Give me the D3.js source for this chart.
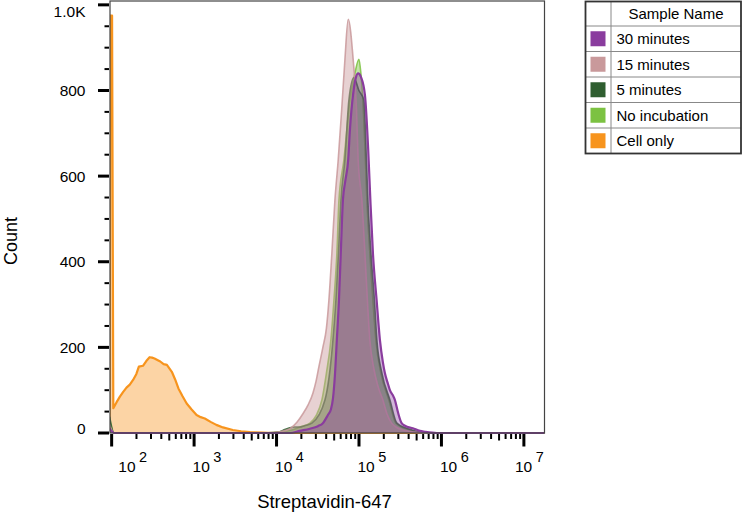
<!DOCTYPE html>
<html>
<head>
<meta charset="utf-8">
<script src="https://cdn.jsdelivr.net/npm/d3@7/dist/d3.min.js"></script>
<style>
  html, body { margin: 0; padding: 0; background: #fff; }
  svg { display: block; font-family: "Liberation Sans", Arial, Helvetica, sans-serif; }
</style>
</head>
<body>
<svg id="chart" width="742" height="515"></svg>
<script>
// ---------------- DATA ----------------
// x values are log10 of Streptavidin-647 intensity, y values are counts
const seriesNames = ["30 minutes", "15 minutes", "5 minutes", "No incubation", "Cell only"];
const seriesColors = ["#8a3c9e", "#c9999b", "#2f5e30", "#7cc242", "#f7941d"];

const cellOnlyLog   = [1.975, 1.985, 2.005, 2.02, 2.06, 2.10, 2.14, 2.18, 2.22, 2.26, 2.30, 2.33, 2.38, 2.42, 2.46, 2.49, 2.52, 2.56, 2.59, 2.63, 2.67, 2.73, 2.77, 2.81, 2.86, 2.91, 2.97, 3.03, 3.08, 3.13, 3.20, 3.27, 3.35, 3.47, 3.57, 3.68, 3.83, 3.95, 7.25];
const cellOnlyCount = [0, 975, 975, 58, 72, 85, 96, 106, 113, 124, 138, 155, 157, 168, 177, 176, 174, 170, 167, 161, 159, 143, 125, 104, 86, 69, 55, 42, 37, 34, 26, 19, 13, 7, 4, 2, 1, 0, 0];

const noIncLog   = [1.975, 2.03, 3.88, 3.98, 4.102, 4.187, 4.283, 4.405, 4.478, 4.550, 4.605, 4.659, 4.696, 4.732, 4.757, 4.817, 4.890, 4.950, 4.999, 5.023, 5.047, 5.078, 5.096, 5.132, 5.169, 5.205, 5.266, 5.363, 5.448, 5.617, 5.799, 7.25];
const noIncCount = [30, 0, 0, 2, 4, 7, 14, 23, 40, 77, 140, 217, 310, 420, 544, 638, 778, 840, 873, 840, 778, 638, 544, 420, 310, 217, 140, 77, 23, 7, 0, 0];

const min5Log   = [1.975, 2.03, 3.90, 4.04, 4.10, 4.16, 4.22, 4.28, 4.34, 4.429, 4.587, 4.684, 4.720, 4.751, 4.781, 4.829, 4.878, 4.938, 4.999, 5.059, 5.090, 5.108, 5.145, 5.187, 5.217, 5.278, 5.375, 5.460, 5.642, 5.836, 7.25];
const min5Count = [38, 0, 0, 3, 8, 12, 14, 14, 17, 23, 77, 217, 310, 420, 544, 638, 778, 830, 800, 778, 638, 544, 420, 310, 217, 140, 77, 23, 7, 0, 0];

const min15Log   = [1.975, 2.03, 3.85, 3.920, 4.041, 4.162, 4.247, 4.320, 4.381, 4.441, 4.478, 4.514, 4.562, 4.605, 4.635, 4.671, 4.708, 4.748, 4.790, 4.829, 4.869, 4.930, 4.970, 4.990, 5.035, 5.072, 5.102, 5.132, 5.181, 5.229, 5.290, 5.339, 5.396, 5.448, 5.557, 5.678, 5.799, 7.25];
const min15Count = [20, 0, 0, 1, 3, 10, 25, 45, 65, 93, 120, 155, 200, 245, 310, 420, 544, 638, 755, 871, 966, 871, 755, 638, 544, 420, 310, 217, 150, 110, 77, 45, 23, 14, 6, 2, 0, 0];

const min30Log   = [1.975, 2.03, 4.162, 4.283, 4.405, 4.502, 4.562, 4.623, 4.659, 4.684, 4.708, 4.732, 4.757, 4.781, 4.805, 4.835, 4.869, 4.890, 4.930, 4.962, 4.990, 5.023, 5.072, 5.112, 5.138, 5.169, 5.214, 5.254, 5.290, 5.314, 5.351, 5.375, 5.411, 5.436, 5.476, 5.517, 5.557, 5.654, 5.739, 5.799, 5.945, 7.25];
const min30Count = [10, 0, 0, 5, 10, 16, 23, 42, 55, 80, 135, 220, 310, 430, 544, 590, 638, 708, 794, 830, 840, 832, 790, 661, 544, 420, 310, 217, 165, 140, 115, 100, 88, 77, 46, 23, 17, 11, 5, 3, 0, 0];

const yMajorTicks  = [0, 200, 400, 600, 800, 1000];
const yMajorLabels = ["0", "200", "400", "600", "800", "1.0K"];
const xMajorExps   = [2, 3, 4, 5, 6, 7];

const xTitle = "Streptavidin-647";
const yTitle = "Count";
const legendTitle = "Sample Name";

// ---------------- LAYOUT ----------------
const svg = d3.select("#chart");
const plot = { left: 110, right: 544.5, top: 1, bottom: 433 };

const x = d3.scaleLog().domain([Math.pow(10, 1.98), Math.pow(10, 7.25)]).range([plot.left, plot.right]);
const y = d3.scaleLinear().domain([0, 1009]).range([plot.bottom, plot.top]);

const zip = (lx, cy) => lx.map((e, i) => ({ v: Math.pow(10, e), c: cy[i] }));
const data = {
  "30 minutes": zip(min30Log, min30Count),
  "15 minutes": zip(min15Log, min15Count),
  "5 minutes": zip(min5Log, min5Count),
  "No incubation": zip(noIncLog, noIncCount),
  "Cell only": zip(cellOnlyLog, cellOnlyCount)
};

svg.append("defs").append("clipPath").attr("id", "clip")
  .append("rect").attr("x", plot.left).attr("y", plot.top)
  .attr("width", plot.right - plot.left).attr("height", plot.bottom - plot.top + 2);

const gPlot = svg.append("g").attr("clip-path", "url(#clip)");

// draw order: back to front
const drawOrder = ["Cell only", "No incubation", "5 minutes", "15 minutes", "30 minutes"];
const fillOpacity = { "Cell only": 0.4, "No incubation": 0.45, "5 minutes": 0.4, "15 minutes": 0.45, "30 minutes": 0.38 };
drawOrder.forEach(name => {
  const col = seriesColors[seriesNames.indexOf(name)];
  const curve = name === "Cell only" ? d3.curveLinear : d3.curveMonotoneX;
  const area = d3.area().x(d => x(d.v)).y0(y(0)).y1(d => y(d.c)).curve(curve);
  const line = d3.line().x(d => x(d.v)).y(d => y(d.c)).curve(curve);
  gPlot.append("path").datum(data[name]).attr("d", area)
    .attr("fill", col).attr("fill-opacity", fillOpacity[name]);
  gPlot.append("path").datum(data[name]).attr("d", line)
    .attr("fill", "none").attr("stroke", col)
    .attr("stroke-width", name === "30 minutes" || name === "Cell only" ? 2.2 : 1.6)
    .attr("stroke-opacity", name === "30 minutes" || name === "Cell only" ? 1 : 0.85)
    .attr("stroke-linejoin", "round");
});

// frame
svg.append("rect").attr("x", plot.left).attr("y", plot.top)
  .attr("width", plot.right - plot.left).attr("height", plot.bottom - plot.top)
  .attr("fill", "none").attr("stroke", "#444").attr("stroke-width", 1.2);

// ---------------- Y AXIS ----------------
const yMinor = d3.range(0, 1001, 50).filter(v => yMajorTicks.indexOf(v) < 0);
svg.append("g").selectAll("line").data(yMinor).join("line")
  .attr("x1", plot.left - 5.5).attr("x2", plot.left - 1)
  .attr("y1", d => y(d)).attr("y2", d => y(d))
  .attr("stroke", "#000").attr("stroke-width", 2);
svg.append("g").selectAll("line").data(yMajorTicks).join("line")
  .attr("x1", plot.left - 12).attr("x2", plot.left - 1)
  .attr("y1", d => y(d)).attr("y2", d => y(d))
  .attr("stroke", "#000").attr("stroke-width", 3);
svg.append("g").selectAll("text").data(yMajorTicks).join("text")
  .attr("x", 85.5)
  .attr("y", d => Math.max(11, Math.min(428, y(d))))
  .attr("dy", "0.36em")
  .attr("text-anchor", "end")
  .attr("font-size", 15.5)
  .attr("fill", "#000")
  .text((d, i) => yMajorLabels[i]);

// ---------------- X AXIS ----------------
const xMinor = [];
xMajorExps.forEach(e => { for (let k = 2; k <= 9; k++) { const v = k * Math.pow(10, e); if (v < x.domain()[1]) xMinor.push({ v, k }); } });
svg.append("g").selectAll("line").data(xMinor).join("line")
  .attr("x1", d => x(d.v)).attr("x2", d => x(d.v))
  .attr("y1", plot.bottom + 1).attr("y2", d => plot.bottom + (d.k === 5 ? 7.5 : 6))
  .attr("stroke", "#000").attr("stroke-width", 2);
svg.append("g").selectAll("line").data(xMajorExps).join("line")
  .attr("x1", e => x(Math.pow(10, e))).attr("x2", e => x(Math.pow(10, e)))
  .attr("y1", plot.bottom + 1).attr("y2", plot.bottom + 13.5)
  .attr("stroke", "#000").attr("stroke-width", 3);
const xl = svg.append("g").selectAll("text").data(xMajorExps).join("text")
  .attr("x", e => Math.max(118.3, Math.min(515, x(Math.pow(10, e)) - 1.5)))
  .attr("y", 472)
  .attr("font-size", 15.5)
  .attr("fill", "#000");
xl.append("tspan").text("10");
xl.append("tspan").attr("dx", 3.5).attr("dy", -10).attr("font-size", 14.5).text(e => e);

// ---------------- TITLES ----------------
svg.append("text").attr("x", 324.5).attr("y", 508).attr("text-anchor", "middle")
  .attr("font-size", 18.5).attr("fill", "#000").text(xTitle);
svg.append("text").attr("transform", "translate(16.5,241) rotate(-90)").attr("text-anchor", "middle")
  .attr("font-size", 18).attr("fill", "#000").text(yTitle);

// ---------------- LEGEND ----------------
const lg = { left: 585.5, right: 741, top: 1.5, headerH: 24.5, rowH: 25.5, col: 611 };
const legend = svg.append("g");
const lgBottom = lg.top + lg.headerH + lg.rowH * seriesNames.length;
legend.append("rect").attr("x", lg.left).attr("y", lg.top)
  .attr("width", lg.right - lg.left).attr("height", lgBottom - lg.top)
  .attr("fill", "#fff");
// inner grid lines
legend.append("line").attr("x1", lg.col).attr("x2", lg.col).attr("y1", lg.top).attr("y2", lgBottom)
  .attr("stroke", "#888").attr("stroke-width", 1);
legend.selectAll("line.row").data(seriesNames).join("line").attr("class", "row")
  .attr("x1", lg.left).attr("x2", lg.right)
  .attr("y1", (d, i) => lg.top + lg.headerH + i * lg.rowH)
  .attr("y2", (d, i) => lg.top + lg.headerH + i * lg.rowH)
  .attr("stroke", "#888").attr("stroke-width", 1);
legend.append("rect").attr("x", lg.left).attr("y", lg.top)
  .attr("width", lg.right - lg.left).attr("height", lgBottom - lg.top)
  .attr("fill", "none").attr("stroke", "#333").attr("stroke-width", 1.8);
legend.append("text").attr("x", (lg.col + lg.right) / 2).attr("y", lg.top + lg.headerH / 2)
  .attr("dy", "0.36em").attr("text-anchor", "middle").attr("font-size", 15).attr("fill", "#000")
  .text(legendTitle);
seriesNames.forEach((name, i) => {
  const cy = lg.top + lg.headerH + i * lg.rowH + lg.rowH / 2;
  legend.append("rect").attr("x", 590.5).attr("y", cy - 7.5).attr("width", 15).attr("height", 15)
    .attr("fill", seriesColors[i]);
  legend.append("text").attr("x", 616.5).attr("y", cy).attr("dy", "0.36em")
    .attr("font-size", 15).attr("fill", "#000").text(name);
});
</script>
</body>
</html>
